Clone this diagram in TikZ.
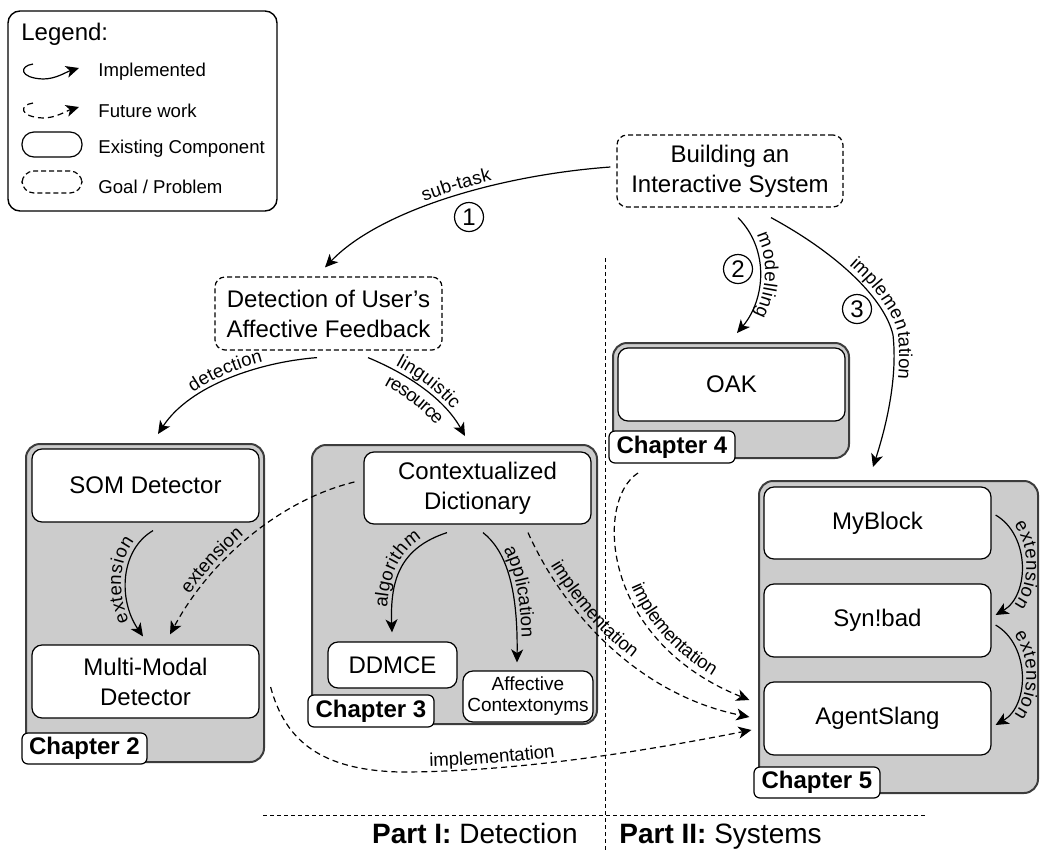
\documentclass[tikz,border=0pt]{standalone}
\usepackage{fontspec}
\setmainfont{Liberation Sans}
\usetikzlibrary{arrows.meta,decorations.text}

\newcommand\boxfont{\fontsize{12}{15}\selectfont}
\newcommand\lblfont{\fontsize{9.3}{11}\selectfont}
\newcommand\smallboxfont{\fontsize{9.5}{10.5}\selectfont}
\newcommand\chapfont{\fontsize{12}{14}\selectfont\bfseries}
\newcommand\partfont{\fontsize{14}{17}\selectfont}

\definecolor{groupgray}{RGB}{204,204,204}
\definecolor{groupline}{RGB}{60,60,60}

\tikzset{
  arrowtip/.style={-{Stealth[length=6.5pt,width=6pt,inset=1.8pt]}},
  solidlink/.style={arrowtip, line width=0.6pt},
  futurelink/.style={solidlink, dash pattern=on 3pt off 2pt},
  comp/.style={draw, fill=white, rounded corners=5pt, line width=0.6pt,
    align=center, font=\boxfont, inner sep=0pt},
  goal/.style={comp, dash pattern=on 2.5pt off 1.5pt},
  group/.style={draw=groupline, fill=groupgray, rounded corners=7pt,
    line width=1pt, inner sep=0pt},
  chap/.style={draw, fill=white, rounded corners=3pt, line width=0.6pt,
    font=\chapfont, inner sep=0pt},
  num/.style={draw, circle, line width=0.6pt, minimum size=14.5pt,
    inner sep=0pt, font=\boxfont},
  legendtext/.style={anchor=base west, inner sep=0pt, font=\lblfont},
  divider/.style={line width=0.5pt, dash pattern=on 2pt off 1.5pt},
  pathlabel/.style 2 args={postaction={decorate, decoration={text along path,
    text={|\lblfont|#1}, text align=center, raise=2.5pt, #2}}},
}

\begin{document}
\begin{tikzpicture}[x=0.5pt, y=-0.5pt]
\useasboundingbox (0,0) rectangle (1040,852);

% ---------- legend ----------
\node[draw, rounded corners=6pt, line width=0.7pt, minimum width=134.5pt,
  minimum height=100pt, inner sep=0pt] (legendbox) at (142.5,111) {};
\node[anchor=base west, inner sep=0pt, font=\boxfont] (legendtitle) at (21,40) {Legend:};
\draw[solidlink] (33,64) .. controls (19,66) and (19,78) .. (43,79)
  .. controls (56,79) and (66,72) .. (79,68);
\node[legendtext] (legimpl) at (98,76) {Implemented};
\draw[futurelink] (33,103) .. controls (19,105) and (19,117) .. (43,118)
  .. controls (56,118) and (66,111) .. (79,107);
\node[legendtext] (legfut) at (98,117) {Future work};
\draw[line width=0.6pt, rounded corners=6pt] (22,132) rectangle (82,157);
\node[legendtext] (legcomp) at (98,153) {Existing Component};
\draw[line width=0.6pt, rounded corners=6pt, dash pattern=on 2.5pt off 1.5pt] (22,171) rectangle (82,193);
\node[legendtext] (leggoal) at (98,193) {Goal / Problem};

% ---------- goals ----------
\node[goal, minimum width=113pt, minimum height=36pt] (build) at (730,171)
  {Building an\\Interactive System};
\node[goal, minimum width=113.5pt, minimum height=36.5pt] (detect) at (328.5,313.5)
  {Detection of User's\\Affective Feedback};

% ---------- chapter 2 ----------
\node[group, minimum width=119pt, minimum height=159pt] (ch2) at (145,603) {};
\node[comp, minimum width=113.5pt, minimum height=36.5pt] (som) at (145.5,485.5) {SOM Detector};
\node[comp, minimum width=113.5pt, minimum height=36.5pt] (mm) at (145.5,681.5) {Multi-Modal\\Detector};
\node[chap, minimum width=62.5pt, minimum height=15.5pt] (ch2lab) at (84.5,748.5) {Chapter 2};

% ---------- chapter 3 ----------
\node[group, minimum width=142.5pt, minimum height=139.5pt] (ch3) at (454.5,584.5) {};
\node[comp, minimum width=113.5pt, minimum height=36pt] (ctx) at (477.5,488) {Contextualized\\Dictionary};
\node[comp, minimum width=64.5pt, minimum height=23pt] (ddmce) at (392.5,665) {DDMCE};
\node[comp, minimum width=65pt, minimum height=25.5pt, font=\smallboxfont] (aff) at (528,696.5)
  {Affective\\Contextonyms};
\node[chap, minimum width=63pt, minimum height=16pt] (ch3lab) at (371,711) {Chapter 3};

% ---------- chapter 4 ----------
\node[group, minimum width=118pt, minimum height=57.5pt] (ch4) at (731,400.5) {};
\node[comp, minimum width=113.5pt, minimum height=36.5pt] (oak) at (731.5,384.5) {OAK};
\node[chap, minimum width=63pt, minimum height=16pt] (ch4lab) at (672,447) {Chapter 4};

% ---------- chapter 5 ----------
\node[group, minimum width=139.5pt, minimum height=156pt] (ch5) at (898.5,637) {};
\node[comp, minimum width=113.5pt, minimum height=36pt] (myblock) at (877.5,523) {MyBlock};
\node[comp, minimum width=113.5pt, minimum height=36.5pt] (synbad) at (877.5,620.5) {Syn!bad};
\node[comp, minimum width=113.5pt, minimum height=36.5pt] (agent) at (877.5,718.5) {AgentSlang};
\node[chap, minimum width=63pt, minimum height=15.5pt] (ch5lab) at (817,782.5) {Chapter 5};

% ---------- part dividers ----------
\draw[divider] (605,258) -- (605,852);
\draw[divider] (263,815) -- (928,815);
\node[anchor=base east, inner sep=0pt, font=\partfont] (part1) at (578,843) {\textbf{Part I:} Detection};
\node[anchor=base west, inner sep=0pt, font=\partfont] (part2) at (619,843) {\textbf{Part II:} Systems};

% ---------- top-level links ----------
\draw[solidlink, pathlabel={sub-task}{reverse path=true}]
  ([shift={(-6,-4)}]build.west) .. controls (500,175) and (380,210) .. ([shift={(-3.5,-9)}]detect.north);
\node[num] (n1) at (469,217) {1};

\draw[solidlink, pathlabel={modelling}{}]
  ([shift={(8,10)}]build.south) .. controls (770,250) and (765,300) .. ([shift={(6,-9)}]ch4.north);
\node[num] (n2) at (738,269) {2};

\draw[solidlink, pathlabel={implementation}{}]
  ([shift={(41,10)}]build.south) .. controls (840,255) and (885,300) .. (893,335)
  .. controls (898,380) and (885,430) .. ([shift={(-25.5,-13)}]ch5.north);
\node[num] (n3) at (857,309) {3};

\draw[solidlink, pathlabel={detection}{reverse path=true}]
  ([shift={(-11.5,7)}]detect.south) .. controls (260,362) and (190,385) .. ([shift={(13,-9)}]ch2.north);

\draw[solidlink, pathlabel={linguistic}{}, pathlabel={resource}{raise=-9pt}]
  ([shift={(39.5,7)}]detect.south) .. controls (410,375) and (445,400) .. ([shift={(10.5,-8)}]ch3.north);

% ---------- links inside and between chapters ----------
\draw[solidlink, pathlabel={extension}{reverse path=true}]
  ([shift={(7.5,8)}]som.south) .. controls (120,550) and (118,600) .. ([shift={(-2.5,-8)}]mm.north);

\draw[futurelink, pathlabel={extension}{reverse path=true, text align={left, left indent=22pt}}]
  ([shift={(-9,-6)}]ctx.west) .. controls (280,500) and (210,560) .. ([shift={(24.5,-10)}]mm.north);

\draw[solidlink, pathlabel={algorithm}{reverse path=true}]
  ([shift={(-30.5,8)}]ctx.south) .. controls (400,548) and (390,580) .. ([shift={(-0.5,-9)}]ddmce.north);

\draw[solidlink, pathlabel={application}{}]
  ([shift={(5.5,8)}]ctx.south) .. controls (505,550) and (518,585) .. ([shift={(-11,-8)}]aff.north);

\draw[futurelink, pathlabel={implementation}{text align={left, left indent=20pt}}]
  ([shift={(50.5,8)}]ctx.south) .. controls (565,615) and (640,695) .. ([shift={(-14,-1.5)}]agent.west);

\draw[futurelink, pathlabel={implementation}{text align={left, left indent=62pt}}]
  ([shift={(-93,14)}]ch4.south) .. controls (595,500) and (600,640) .. ([shift={(-14,-18.5)}]agent.west);

\draw[futurelink, pathlabel={implementation}{}]
  ([shift={(11,5.5)}]mm.east) .. controls (285,740) and (320,770) .. (400,772)
  .. controls (520,772) and (650,750) .. ([shift={(-12,11.5)}]agent.west);

\draw[solidlink, pathlabel={extension}{}]
  ([shift={(4,-8)}]myblock.east) .. controls (1030,535) and (1030,595) .. ([shift={(4,-5.5)}]synbad.east);
\draw[solidlink, pathlabel={extension}{}]
  ([shift={(4,4.5)}]synbad.east) .. controls (1030,645) and (1030,705) .. ([shift={(4,6.5)}]agent.east);

\end{tikzpicture}
\end{document}
